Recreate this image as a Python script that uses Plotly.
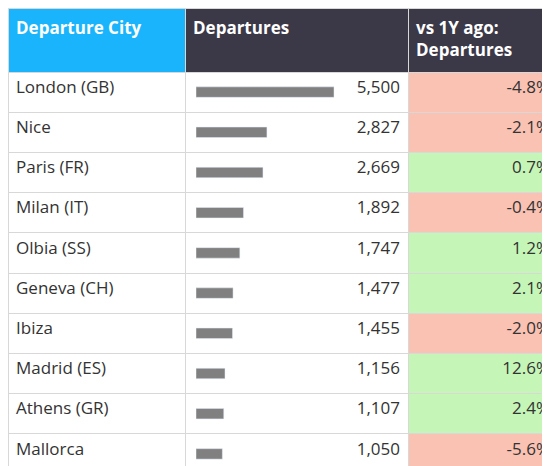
import plotly.graph_objects as go

cities = ["London (GB)", "Nice", "Paris (FR)", "Milan (IT)", "Olbia (SS)",
          "Geneva (CH)", "Ibiza", "Madrid (ES)", "Athens (GR)", "Mallorca"]
departures = [5500, 2827, 2669, 1892, 1747, 1477, 1455, 1156, 1107, 1050]
change = [-4.8, -2.1, 0.7, -0.4, 1.2, 2.1, -2.0, 12.6, 2.4, -5.6]
headers = ["Departure City", "Departures", "vs 1Y ago:<br>Departures"]

W, H = 550, 466
head_h = 64
row_h = (H - head_h) / len(cities)

chg_fill = ["#c6f5b8" if c > 0 else "#f9c2b3" for c in change]

fig = go.Figure()

fig.add_trace(go.Bar(
    x=departures, y=cities, orientation="h",
    marker_color="#808080", width=0.26,
    xaxis="x", yaxis="y", showlegend=False, hoverinfo="skip"))

fig.add_trace(go.Table(
    domain=dict(x=[0, 1], y=[0, 1]),
    columnwidth=[177, 223, 150],
    header=dict(
        values=["<b>%s</b>" % h for h in headers],
        fill_color=["#1ab4fd", "#3b3848", "#3b3848"],
        font=dict(color="white", size=17, family="Open Sans"),
        align="left", height=head_h,
        line=dict(color="#d8d8d8", width=1)),
    cells=dict(
        values=[cities, ["{:,}".format(d) for d in departures],
                ["%.1f%%" % c for c in change]],
        fill_color=[["white"] * 10, ["rgba(0,0,0,0)"] * 10, chg_fill],
        font=dict(color="#333333", size=17, family="Open Sans"),
        align=["left", "right", "right"], height=row_h,
        line=dict(color="#d8d8d8", width=1))))

bar_x0 = 188 / W
bar_x1 = 400 / W
fig.update_layout(
    width=W, height=H, margin=dict(l=0, r=0, t=0, b=0),
    paper_bgcolor="white", plot_bgcolor="rgba(0,0,0,0)",
    xaxis=dict(domain=[bar_x0, bar_x1], range=[0, 5500 * 212 / 138],
               visible=False, fixedrange=True),
    yaxis=dict(domain=[0, (H - head_h) / H], categoryorder="array",
               categoryarray=cities[::-1], visible=False, fixedrange=True),
)

fig.write_html("out.html")
